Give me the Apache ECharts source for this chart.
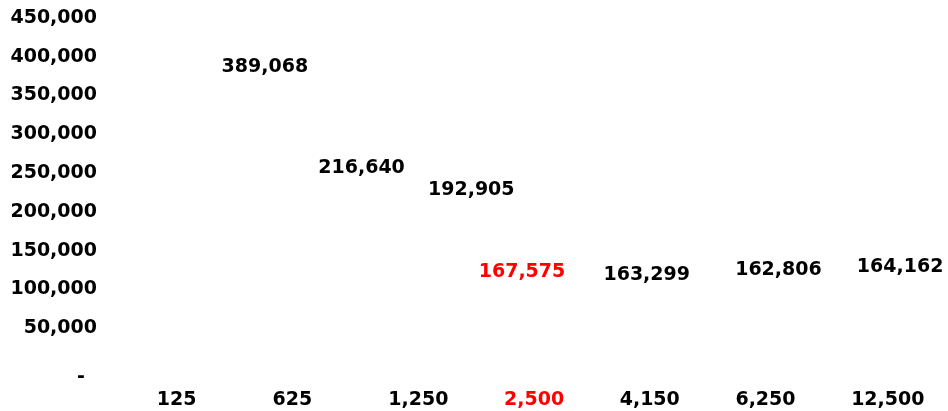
<!DOCTYPE html>
<html>
<head>
<meta charset="utf-8">
<script src="https://cdn.jsdelivr.net/npm/echarts@6/dist/echarts.min.js"></script>
<style>
  html, body { margin: 0; padding: 0; background: #fff; }
  #chart { width: 948px; height: 411px; }
</style>
</head>
<body>
<div id="chart"></div>
<script>
// batch sizes on the x axis, total values per batch
const categories = ['125', '625', '1,250', '2,500', '4,150', '6,250', '12,500'];
const values = [389068, 216640, 192905, 167575, 163299, 162806, 164162];
const highlightIndex = 3; // 2,500 is the picked one, shown in red

// where each value label sits relative to its point (px)
const labelOffsets = [[108, 2], [89, -31], [83, -27], [18, 35], [27, 35], [43, 29], [49, 27]];

const FONT = 'DejaVu Sans';
const SIZE = 19;
const RED = '#ff0000';

function fmt (v) {
  return String(v).replace(/\B(?=(\d{3})+(?!\d))/g, ',');
}

const chart = echarts.init(document.getElementById('chart'));

const xData = categories.map((c, i) => {
  if (i === highlightIndex) {
    return { value: c, textStyle: { color: RED, align: 'left' } };
  }
  return c;
});

const seriesData = values.map((v, i) => ({
  value: v,
  label: {
    offset: labelOffsets[i],
    color: i === highlightIndex ? RED : '#000'
  }
}));

chart.setOption({
  animation: false,
  grid: { left: 99, right: 39, top: 18, bottom: 44 },
  xAxis: {
    type: 'category',
    data: xData,
    axisLine: { show: false },
    axisTick: { show: false },
    splitLine: { show: false },
    axisLabel: {
      align: 'left',
      margin: 24,
      color: '#000',
      fontFamily: FONT,
      fontWeight: 'bold',
      fontSize: SIZE
    }
  },
  yAxis: {
    type: 'value',
    min: 0,
    max: 450000,
    interval: 50000,
    axisLine: { show: false },
    axisTick: { show: false },
    splitLine: { show: false },
    axisLabel: {
      margin: 2,
      color: '#000',
      fontFamily: FONT,
      fontWeight: 'bold',
      fontSize: SIZE,
      formatter: function (v) {
        return v === 0 ? '{d|-}' : fmt(v);
      },
      rich: {
        d: {
          fontFamily: FONT,
          fontWeight: 'bold',
          fontSize: SIZE,
          color: '#000',
          padding: [20, 12, 0, 0]
        }
      }
    }
  },
  series: [{
    type: 'scatter',
    data: seriesData,
    symbolSize: 1,
    itemStyle: { color: 'rgba(0,0,0,0)', opacity: 1 },
    label: {
      show: true,
      position: 'inside',
      fontFamily: FONT,
      fontWeight: 'bold',
      fontSize: SIZE,
      formatter: function (p) {
        return fmt(p.value);
      }
    }
  }]
});
</script>
</body>
</html>
